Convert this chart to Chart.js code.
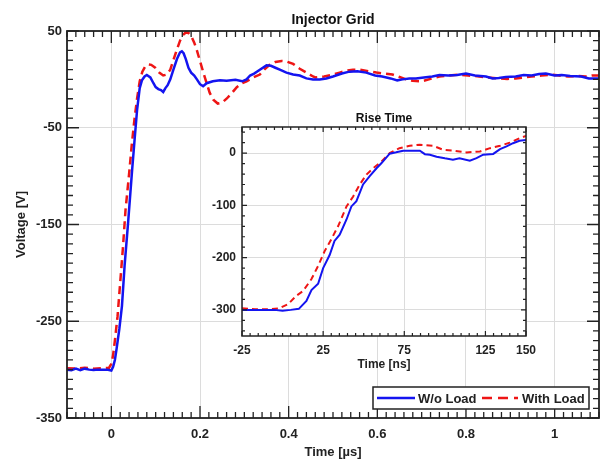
<!DOCTYPE html>
<html>
<head>
<meta charset="utf-8">
<script src="https://cdn.jsdelivr.net/npm/chart.js@4.4.1/dist/chart.umd.min.js"></script>
<style>
  html, body { margin: 0; padding: 0; background: #fff; }
  #wrap { position: relative; width: 601px; height: 460px; }
  #main { position: absolute; left: 0; top: 0; }
  #inset { position: absolute; left: 190px; top: 100px; }
</style>
</head>
<body>
<div id="wrap">
  <canvas id="main" width="601" height="460"></canvas>
  <canvas id="inset" width="350" height="280"></canvas>
</div>
<script>
// main plot, time in µs, voltage in V
const mainTimeBlue = [-0.1, -0.09, -0.08, -0.07, -0.06, -0.05, -0.04, -0.03, -0.02, -0.01, 0, 0.004, 0.008, 0.012, 0.018, 0.024, 0.03, 0.038, 0.047, 0.052, 0.058, 0.064, 0.069, 0.075, 0.08, 0.088, 0.095, 0.1, 0.106, 0.112, 0.117, 0.122, 0.127, 0.133, 0.14, 0.148, 0.155, 0.159, 0.163, 0.168, 0.174, 0.18, 0.187, 0.193, 0.2, 0.207, 0.215, 0.229, 0.245, 0.26, 0.28, 0.295, 0.305, 0.313, 0.322, 0.335, 0.35, 0.36, 0.37, 0.38, 0.395, 0.41, 0.425, 0.44, 0.455, 0.47, 0.485, 0.5, 0.52, 0.537, 0.555, 0.575, 0.595, 0.611, 0.63, 0.645, 0.657, 0.672, 0.687, 0.705, 0.724, 0.74, 0.76, 0.78, 0.8, 0.82, 0.845, 0.86, 0.874, 0.89, 0.912, 0.93, 0.948, 0.965, 0.98, 1.0, 1.016, 1.035, 1.06, 1.077, 1.09, 1.1];
const mainVoltBlue = [-300, -300.5, -299, -300.5, -299, -300, -300.5, -300, -300, -300, -301, -297, -290, -278, -258, -234, -192, -147, -93, -65, -32, -9, -1, 3, 4.5, 2, -4, -8, -10, -11, -13, -9, -6, 0, 10, 21, 28, 29, 27, 21, 12, 7, 4, 0, -5, -7, -4, -2, -1, -1.5, -0.5, -2, 0, 4, 6, 10, 14.5, 14, 12, 10, 7, 5, 4, 1, 0, 0, 1, 3, 6, 8, 8.5, 7, 4, 3, 1, -1, 0, 1, 1, 2, 3, 4.5, 4, 4.5, 6, 4, 3, 1, 1.5, 2.5, 3, 4.5, 4, 5.5, 6, 4, 4.5, 3.5, 3, 1, 1, 1];
const mainTimeRed = [-0.1, -0.08, -0.06, -0.04, -0.02, -0.005, 0, 0.004, 0.008, 0.014, 0.02, 0.026, 0.032, 0.04, 0.046, 0.052, 0.058, 0.064, 0.07, 0.076, 0.083, 0.09, 0.099, 0.108, 0.117, 0.125, 0.133, 0.14, 0.148, 0.155, 0.162, 0.168, 0.174, 0.18, 0.187, 0.193, 0.2, 0.207, 0.215, 0.222, 0.23, 0.24, 0.25, 0.26, 0.272, 0.283, 0.295, 0.305, 0.32, 0.335, 0.345, 0.357, 0.37, 0.384, 0.395, 0.41, 0.425, 0.44, 0.455, 0.46, 0.48, 0.5, 0.515, 0.53, 0.545, 0.56, 0.58, 0.598, 0.615, 0.634, 0.65, 0.665, 0.68, 0.7, 0.72, 0.74, 0.76, 0.784, 0.805, 0.83, 0.85, 0.874, 0.893, 0.912, 0.93, 0.948, 0.97, 0.993, 1.01, 1.03, 1.05, 1.07, 1.085, 1.1];
const mainVoltRed = [-298.5, -299, -298, -299, -298.5, -298, -294, -285, -270, -245, -210, -175, -135, -98, -68, -42, -20, -2, 8, 13, 15.5, 15, 12, 7, 4, 5, 10, 20, 31, 40, 46, 48.5, 48, 45, 38, 30, 19, 8, -4, -14, -21, -25, -24, -20, -14, -8, -4, -2, 2, 5, 10, 15, 18, 19, 18.5, 16, 11, 7, 3, 2, 3, 5, 7, 9, 10, 10, 8.5, 7, 6, 5, 2.5, 0, -1.5, -2, 0.5, 3, 4, 5, 4, 3, 2, 1, 0.5, 1, 2, 3, 4, 5, 4, 3, 3.5, 3, 4, 4];

// inset "Rise Time", time in ns
const insetTimeBlue = [-25, -15, -5, 0, 5, 10, 14.7, 17.8, 21.9, 25, 29, 32, 35.2, 39.4, 42.4, 45.5, 49.6, 53.7, 57.9, 61, 66, 70, 74.3, 84.6, 87.7, 90.8, 94.9, 100, 105, 109, 115.4, 119.5, 123.6, 129.8, 134, 138, 142, 146, 150];
const insetVoltBlue = [-300, -300, -300, -301.5, -300, -298, -283, -262, -250, -220, -195, -168, -156, -127, -102, -92, -60, -44, -29, -19, -1, 1.5, 4.5, 4.5, -2, -3, -7, -10, -12.5, -10, -14.5, -9.5, -3, -1.5, 7.5, 13, 19, 23.5, 25];
const insetTimeRed = [-25, -17, -10, -2, 3.4, 8.5, 12.6, 17.8, 21.9, 26, 30, 34.2, 39.4, 43.5, 47.6, 51.7, 55.8, 61, 66, 72, 78.4, 84.6, 92.8, 99, 105, 113.4, 121.6, 127.8, 134, 140, 146, 150];
const insetVoltRed = [-297, -299, -299, -297, -289, -273, -264, -241, -216, -187, -165, -140, -102, -83, -60, -41, -29, -16, 0, 9.5, 14, 16, 14, 6.4, 5, 1.3, 3.2, 9.5, 14, 20, 28.6, 33];

const mainXTicks = [0, 0.2, 0.4, 0.6, 0.8, 1];
const mainYTicks = [50, -50, -150, -250, -350];
const insetXTicks = [-25, 25, 75, 125, 150];
const insetYTicks = [0, -100, -200, -300];
const seriesNames = ['W/o Load', 'With Load'];

const BLUE = '#1414f0';
const RED = '#ee1515';
const INK = '#222222';

Chart.defaults.font.family = '"Liberation Sans", Arial, sans-serif';
Chart.defaults.color = INK;

const toPoints = (xs, ys) => xs.map((x, i) => ({ x: x, y: ys[i] }));

// white plot background (inset covers the main grid)
const whiteArea = {
  id: 'whiteArea',
  beforeDraw(chart, args, o) {
    const { ctx, chartArea: a } = chart;
    ctx.save();
    ctx.fillStyle = '#fff';
    if (o.full) ctx.fillRect(0, 0, chart.width, chart.height);
    else ctx.fillRect(a.left, a.top, a.width, a.height);
    ctx.restore();
  }
};

// matlab style box with inward ticks on all four sides
const boxTicks = {
  id: 'boxTicks',
  afterDatasetsDraw(chart, args, o) {
    const { ctx, chartArea: a, scales } = chart;
    const sx = scales.x, sy = scales.y;
    const steps = (min, max, st) => {
      const out = [];
      const start = Math.ceil(min / st - 1e-6);
      for (let i = start; i * st <= max + 1e-9; i++) out.push(i * st);
      return out;
    };
    const isMajor = (v, list, st) => list.some(m => Math.abs(m - v) < st / 2);
    ctx.save();
    ctx.strokeStyle = INK;
    ctx.lineWidth = o.tickWidth;
    ctx.beginPath();
    steps(sx.min, sx.max, o.xMinor).forEach(v => {
      const len = isMajor(v, o.xMajor, o.xMinor) ? o.majorLen : o.minorLen;
      const px = sx.getPixelForValue(v);
      ctx.moveTo(px, a.bottom); ctx.lineTo(px, a.bottom - len);
      ctx.moveTo(px, a.top); ctx.lineTo(px, a.top + len);
    });
    steps(sy.min, sy.max, o.yMinor).forEach(v => {
      const len = isMajor(v, o.yMajor, o.yMinor) ? o.majorLen : o.minorLen;
      const py = sy.getPixelForValue(v);
      ctx.moveTo(a.left, py); ctx.lineTo(a.left + len, py);
      ctx.moveTo(a.right, py); ctx.lineTo(a.right - len, py);
    });
    ctx.stroke();
    ctx.lineWidth = o.boxWidth;
    ctx.strokeRect(a.left, a.top, a.width, a.height);
    ctx.restore();
  }
};

// boxed legend in the lower right corner of the main plot
const legendBox = {
  id: 'legendBox',
  afterDraw(chart) {
    const { ctx, chartArea: a } = chart;
    const w = 216, h = 22;
    const x0 = a.right - 10 - w, y0 = a.bottom - 9 - h;
    const ym = y0 + h / 2;
    const ds = chart.data.datasets;
    ctx.save();
    ctx.fillStyle = '#fff';
    ctx.fillRect(x0, y0, w, h);
    ctx.strokeStyle = INK;
    ctx.lineWidth = 1.5;
    ctx.strokeRect(x0, y0, w, h);
    ctx.font = 'bold 13px "Liberation Sans", Arial, sans-serif';
    ctx.textBaseline = 'middle';
    ctx.fillStyle = INK;
    ctx.lineWidth = 2.5;
    ctx.strokeStyle = ds[0].borderColor;
    ctx.beginPath(); ctx.moveTo(x0 + 4, ym); ctx.lineTo(x0 + 42, ym); ctx.stroke();
    ctx.fillText(ds[0].label, x0 + 45, ym + 1);
    ctx.strokeStyle = ds[1].borderColor;
    ctx.setLineDash([10, 6]);
    ctx.beginPath(); ctx.moveTo(x0 + 109, ym); ctx.lineTo(x0 + 145, ym); ctx.stroke();
    ctx.setLineDash([]);
    ctx.fillText(ds[1].label, x0 + 149, ym + 1);
    ctx.restore();
  }
};

// fixed axis sizes so the plot boxes land where the reference has them
const fixHeight = h => s => { s.height = h; s.paddingLeft = 0; s.paddingRight = 0; };
const fixWidth = w => s => { s.width = w; s.paddingTop = 0; s.paddingBottom = 0; };

new Chart(document.getElementById('main'), {
  type: 'line',
  data: {
    datasets: [
      { label: seriesNames[0], data: toPoints(mainTimeBlue, mainVoltBlue), borderColor: BLUE, borderWidth: 2.5, pointRadius: 0, fill: false },
      { label: seriesNames[1], data: toPoints(mainTimeRed, mainVoltRed), borderColor: RED, borderWidth: 2.5, borderDash: [8, 5], pointRadius: 0, fill: false }
    ]
  },
  options: {
    responsive: false,
    animation: false,
    devicePixelRatio: 1,
    layout: { padding: { left: 0, right: 2, top: 0, bottom: 0 } },
    plugins: {
      legend: { display: false },
      tooltip: { enabled: false },
      title: { display: true, text: 'Injector Grid', fullSize: false, color: '#111', font: { size: 14, weight: 'bold' }, padding: { top: 12, bottom: 2.2 } },
      whiteArea: { full: true },
      boxTicks: { xMinor: 0.02, yMinor: 10, xMajor: mainXTicks, yMajor: mainYTicks, minorLen: 6, majorLen: 12, tickWidth: 1.3, boxWidth: 1.8 }
    },
    scales: {
      x: {
        type: 'linear', min: -0.1, max: 1.1,
        afterBuildTicks: s => { s.ticks = mainXTicks.map(v => ({ value: v })); },
        afterFit: fixHeight(42),
        grid: { color: '#dcdcdc', drawTicks: false },
        border: { display: false },
        ticks: { padding: 9, maxRotation: 0, font: { size: 13, weight: 'bold' }, callback: v => String(v) },
        title: { display: true, text: 'Time [µs]', font: { size: 13, weight: 'bold' }, padding: { top: 0, bottom: 0 } }
      },
      y: {
        type: 'linear', min: -350, max: 50,
        afterBuildTicks: s => { s.ticks = mainYTicks.map(v => ({ value: v })); },
        afterFit: fixWidth(67),
        grid: { color: '#dcdcdc', drawTicks: false },
        border: { display: false },
        ticks: { padding: 5, font: { size: 13, weight: 'bold' }, callback: v => String(v) },
        title: { display: true, text: 'Voltage [V]', font: { size: 13, weight: 'bold' }, padding: { top: 14, bottom: 0 } }
      }
    }
  },
  plugins: [whiteArea, boxTicks, legendBox]
});

new Chart(document.getElementById('inset'), {
  type: 'line',
  data: {
    datasets: [
      { label: seriesNames[0], data: toPoints(insetTimeBlue, insetVoltBlue), borderColor: BLUE, borderWidth: 2, pointRadius: 0, fill: false },
      { label: seriesNames[1], data: toPoints(insetTimeRed, insetVoltRed), borderColor: RED, borderWidth: 2, borderDash: [6, 4], pointRadius: 0, fill: false }
    ]
  },
  options: {
    responsive: false,
    animation: false,
    devicePixelRatio: 1,
    layout: { padding: { left: 0, right: 14, top: 0, bottom: 0 } },
    plugins: {
      legend: { display: false },
      tooltip: { enabled: false },
      title: { display: true, text: 'Rise Time', fullSize: false, color: '#111', font: { size: 12, weight: 'bold' }, padding: { top: 11, bottom: 1.6 } },
      whiteArea: { full: false },
      boxTicks: { xMinor: 5, yMinor: 20, xMajor: insetXTicks, yMajor: insetYTicks, minorLen: 3, majorLen: 5, tickWidth: 1.2, boxWidth: 1.5 }
    },
    scales: {
      x: {
        type: 'linear', min: -25, max: 150,
        afterBuildTicks: s => { s.ticks = insetXTicks.map(v => ({ value: v })); },
        afterFit: fixHeight(44),
        grid: { color: '#dcdcdc', drawTicks: false },
        border: { display: false },
        ticks: { padding: 7, maxRotation: 0, font: { size: 12, weight: 'bold' }, callback: v => String(v) },
        title: { display: true, text: 'Time [ns]', font: { size: 12, weight: 'bold' }, padding: { top: 0, bottom: 8 } }
      },
      y: {
        type: 'linear', min: -350, max: 50,
        afterBuildTicks: s => { s.ticks = insetYTicks.map(v => ({ value: v })); },
        afterFit: fixWidth(52),
        grid: { color: '#dcdcdc', drawTicks: false },
        border: { display: false },
        ticks: { padding: 6, font: { size: 12, weight: 'bold' }, callback: v => String(v) }
      }
    }
  },
  plugins: [whiteArea, boxTicks]
});
</script>
</body>
</html>
